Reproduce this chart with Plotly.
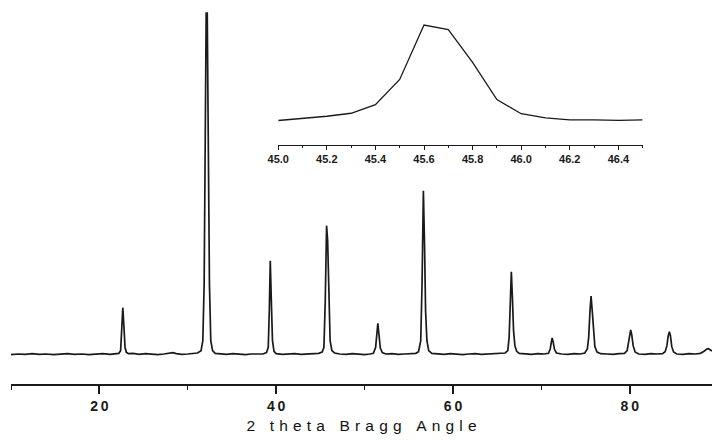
import plotly.graph_objects as go

# Main XRD trace (2theta, intensity a.u.)
two_theta = [10.0, 10.8, 11.6, 12.4, 13.2, 14.0, 14.8, 15.6, 16.4, 17.2, 18.0, 18.8, 19.6, 20.4, 21.2, 21.9, 22.2,
             22.4, 22.55, 22.65, 22.78, 22.9, 23.05, 23.3,
             23.8, 24.5, 25.2, 25.9, 26.6, 27.3, 27.9, 28.3, 28.7, 29.3, 30.0, 30.6, 31.1, 31.5,
             31.7, 31.85, 31.98, 32.08, 32.2, 32.32, 32.45, 32.6, 32.8, 33.1,
             33.7, 34.4, 35.1, 35.8, 36.5, 37.2, 37.9, 38.5, 38.9,
             39.1, 39.22, 39.33, 39.45, 39.58, 39.75, 40.0,
             40.7, 41.4, 42.1, 42.8, 43.5, 44.2, 44.8, 45.2,
             45.4, 45.55, 45.7, 45.82, 45.95, 46.1, 46.3, 46.6,
             47.2, 47.9, 48.6, 49.3, 50.0, 50.6, 51.0,
             51.25, 51.4, 51.5, 51.62, 51.78, 52.0, 52.4,
             53.1, 53.8, 54.5, 55.2, 55.8, 56.1,
             56.35, 56.5, 56.65, 56.78, 56.9, 57.05, 57.25, 57.6,
             58.3, 59.0, 59.7, 60.4, 61.1, 61.8, 62.5, 63.2, 63.9, 64.6, 65.3, 65.9, 66.2,
             66.35, 66.48, 66.6, 66.72, 66.85, 67.0, 67.2, 67.5,
             68.2, 68.9, 69.6, 70.3, 70.8,
             71.0, 71.12, 71.22, 71.34, 71.48, 71.7,
             72.3, 73.0, 73.7, 74.4, 74.9, 75.2,
             75.35, 75.5, 75.62, 75.75, 75.9, 76.05, 76.3, 76.7,
             77.4, 78.1, 78.8, 79.4, 79.7,
             79.85, 80.0, 80.1, 80.22, 80.38, 80.6, 81.0,
             81.7, 82.4, 83.1, 83.7, 84.0,
             84.2, 84.35, 84.48, 84.6, 84.75, 84.95, 85.3,
             86.0, 86.7, 87.4, 88.0, 88.4, 88.7, 88.9, 89.1, 89.3]
intensity = [88, 90, 89, 91, 89, 90, 88, 90, 91, 89, 90, 88, 90, 91, 89, 90, 92,
             100, 160, 229, 170, 110, 95, 91,
             92, 89, 91, 90, 88, 90, 92, 94, 91, 89, 90, 91, 93, 100,
             130, 300, 700, 1113, 1113, 700, 300, 130, 100, 92,
             90, 89, 91, 90, 88, 90, 91, 90, 94,
             110, 220, 370, 250, 130, 98, 91,
             89, 90, 91, 89, 90, 91, 92, 96,
             110, 250, 475, 430, 250, 130, 100, 93,
             90, 89, 91, 90, 88, 90, 92,
             110, 150, 182, 150, 108, 94, 90,
             91, 89, 90, 91, 92, 97,
             130, 300, 580, 420, 220, 130, 100, 92,
             90, 89, 91, 90, 88, 90, 91, 89, 90, 91, 90, 93, 100,
             140, 240, 337, 260, 160, 115, 98, 92,
             90, 89, 91, 90, 92,
             105, 125, 138, 125, 104, 93,
             90, 89, 91, 90, 93, 105,
             140, 220, 264, 220, 150, 112, 96, 91,
             90, 89, 91, 92, 100,
             120, 150, 162, 148, 115, 96, 90,
             89, 91, 90, 91, 97,
             115, 145, 157, 145, 112, 96, 90,
             89, 91, 90, 92, 98, 105, 106, 102, 99]

# Inset: zoom on the 45.6 peak
inset_theta = [45.0, 45.1, 45.2, 45.3, 45.4, 45.5, 45.6, 45.7, 45.8, 45.9, 46.0, 46.1, 46.2, 46.3, 46.4, 46.5]
inset_int = [24.3, 26.5, 28.5, 31.5, 40, 65, 119, 114.5, 82, 45, 31, 27, 25, 25, 24.5, 25]

main_ticks = [20, 40, 60, 80]
main_tick_labels = ["20", "40", "60", "80"]
inset_ticks = [45.0, 45.2, 45.4, 45.6, 45.8, 46.0, 46.2, 46.4]
inset_tick_labels = ["45.0", "45.2", "45.4", "45.6", "45.8", "46.0", "46.2", "46.4"]
x_title = "2 theta Bragg Angle"

ink = "#1a1a1a"

fig = go.Figure()
fig.add_trace(go.Scatter(x=two_theta, y=intensity, mode="lines",
                         line=dict(color=ink, width=1.7), xaxis="x", yaxis="y",
                         showlegend=False, hoverinfo="skip"))
fig.add_trace(go.Scatter(x=inset_theta, y=inset_int, mode="lines",
                         line=dict(color=ink, width=1.3), xaxis="x2", yaxis="y2",
                         showlegend=False, hoverinfo="skip"))

fig.update_layout(
    width=712, height=440,
    margin=dict(l=9, r=0, t=0, b=56),
    paper_bgcolor="white", plot_bgcolor="white",
    font=dict(family="Liberation Sans, Arial, sans-serif", color=ink),
    xaxis=dict(
        range=[10, 89.3], domain=[0, 1], anchor="y",
        showline=True, linecolor=ink, linewidth=1.6,
        ticks="outside", ticklen=8, tickwidth=1.6, tickcolor=ink,
        tickvals=main_ticks, ticktext=["\u2009".join(t) for t in main_tick_labels],
        tickfont=dict(size=14, color=ink, weight="bold"),
        minor=dict(ticks="outside", ticklen=4, tickwidth=1.4, tickcolor=ink, dtick=10, tick0=0),
        showgrid=False, zeroline=False,
        title=dict(text="\u2004".join(x_title), font=dict(size=15.5, color="#111111"), standoff=8),
    ),
    yaxis=dict(range=[0, 1152], visible=False, domain=[0, 1]),
    xaxis2=dict(
        range=[45.0, 46.5], domain=[0.3812, 0.9011], anchor="y2",
        showline=True, linecolor=ink, linewidth=1.3,
        ticks="outside", ticklen=4, tickwidth=1.3, tickcolor=ink,
        tickvals=inset_ticks, ticktext=inset_tick_labels,
        tickfont=dict(size=11, color=ink, weight="bold"),
        minor=dict(ticks="outside", ticklen=2, tickwidth=1.1, tickcolor=ink, dtick=0.1, tick0=45.0),
        showgrid=False, zeroline=False,
    ),
    yaxis2=dict(range=[0, 125], domain=[0.6224, 0.9505], visible=False, anchor="x2"),
)

fig.write_html("out.html")
